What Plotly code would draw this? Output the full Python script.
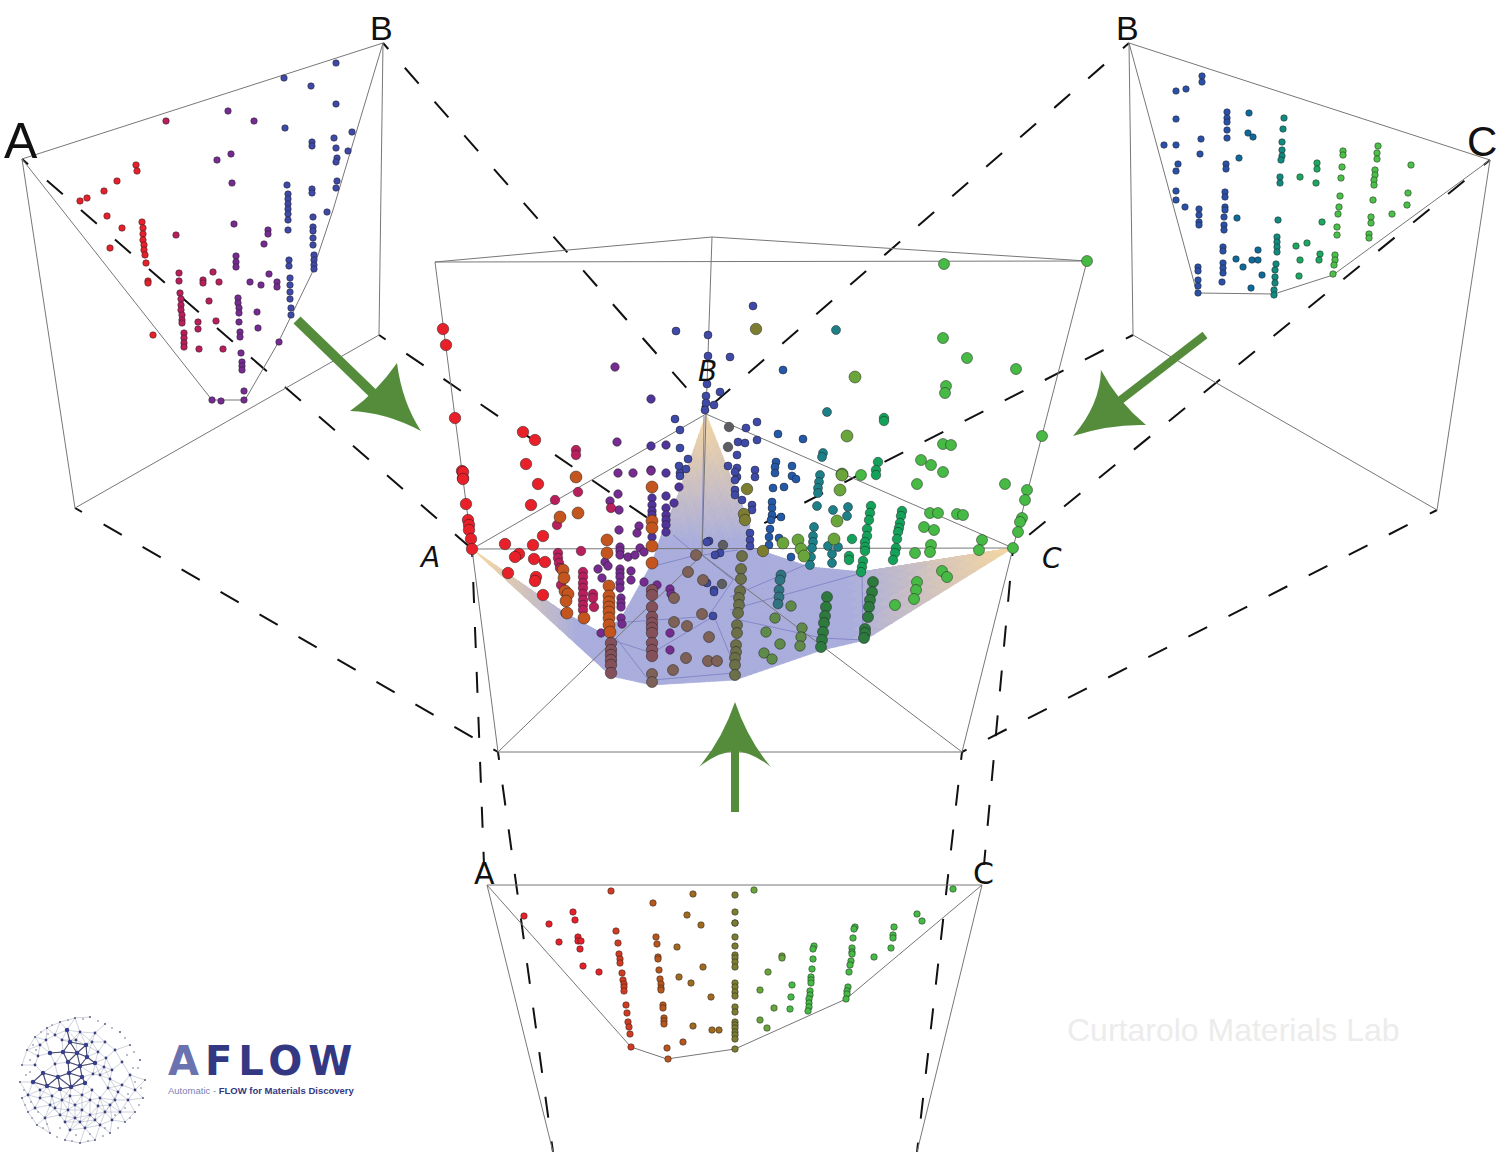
import plotly.graph_objects as go

# ---------- text ----------
WATERMARK = "Curtarolo Materials Lab"
LOGO_TITLE = "AFLOW"
LOGO_SUB_A = "Automatic -"
LOGO_SUB_B = "FLOW for Materials Discovery"

# ---------- central panel: points (x, y) ----------
main_red = [(443,329),(446,345),(455,418),(462,471),(463,478),(463,472),(463,479),(466,504),(468,520),(469,525),(469,530),(471,539),(472,549),
            (523,432),(535,440),(526,464),(538,484),(531,505),(543,536),(505,544),(519,554),(515,557),(533,545),(534,559),(545,562),(508,573),(536,577),(535,581),(543,595)]
main_crimson = [(576,450),(576,455),(555,500),(557,525),(578,492),(581,551),(558,553),(558,558),(559,563),(560,568),(561,585),
                (583,572),(583,577),(583,583),(583,588),(583,594),(583,600),(583,605),(583,610),(593,594),(593,598),(594,607),(611,508)]
main_orange = [(576,477),(560,517),(578,513),(563,570),(564,578),(565,591),(568,594),(566,601),(567,613),(584,618),
               (652,487),(652,521),(652,528),(652,546),(652,563),(607,540),(607,553),(609,586),(609,596),(609,602),(609,607),(609,612),(609,618),(609,625),(610,632)]
main_purple = [(615,367),(617,442),(618,473),(633,473),(651,471),(618,494),(610,501),(619,510),(619,530),(639,526),(637,533),(620,547),(620,551),(620,555),
               (628,557),(635,555),(640,548),(644,552),(605,562),(608,566),(598,569),(602,578),(631,571),(631,580),(620,569),(620,573),(620,577),(620,583),(620,588),
               (621,598),(621,603),(621,607),(621,618),(622,624),(601,633),(565,613),(657,585),(670,589),(671,594),(670,633),(670,650),(644,582)]
main_indigo = [(651,446),(651,399),(651,470),(652,498),(652,505),(652,511),(652,515),(652,537),(666,496),(666,508),(666,515),(666,520),(666,525),(666,532),(674,503),(666,445),(666,473),(679,487)]
main_blue = [(676,331),(708,335),(708,356),(730,357),(707,384),(720,392),(706,396),(706,403),(714,405),(705,410),(675,419),(680,430),(680,448),(688,459),(680,473),(679,466),(686,469),(680,476),
             (746,428),(757,422),(738,442),(745,443),(757,440),(737,455),(728,466),(737,468),(755,470),(737,477),(755,477),(753,306),(709,541),(707,542),(720,553),(715,555),(707,583),(714,590),(714,592),(713,616),
             (735,472),(735,480),(735,490),(735,495),(742,500),(752,505),(752,510),(750,533),(750,540),(750,546)]
main_midblue = [(783,370),(778,434),(776,462),(775,467),(775,473),(772,502),(772,508),(772,515),(771,520),(773,488),(784,487),(770,529),(769,537),(769,545),(781,517),(779,538),(791,557),(803,439),(792,466),(792,476),(796,479)]
main_teal = [(836,330),(827,412),(823,453),(822,457),(820,475),(819,482),(818,488),(818,493),(817,506),(814,527),(813,536),(813,542),(812,548),(811,557),(810,565),(828,546),(833,510),(847,516),(848,507),(838,547),(832,554),(832,563)]
main_emerald = [(884,418),(884,421),(878,462),(876,470),(876,475),(849,556),(849,560),(852,539),(871,506),(870,513),(869,520),(867,529),(867,536),(865,542),(865,547),(865,551),(863,561),(862,567),(861,572),
                (902,511),(901,516),(900,523),(899,528),(898,532),(897,539),(896,548),(895,553),(893,560)]
main_green = [(944,264),(1087,261),(943,338),(967,358),(1016,369),(946,386),(945,393),(1042,436),(943,444),(951,445),(921,460),(931,465),(943,472),(917,484),(1005,484),(930,513),(938,513),(957,514),(963,515),
              (924,527),(934,530),(931,545),(930,552),(915,553),(982,540),(979,550),(1027,490),(1025,500),(1022,518),(1020,522),(1018,532),(1013,548),(942,571),(947,577),(917,582),(916,590),(914,599),(895,605),(861,475)]
main_leaf = [(855,377),(847,436),(842,474),(842,475),(840,490),(837,521),(798,540),(783,543),(801,549),(804,556),(834,539)]
main_olive = [(756,329),(747,489),(744,514),(745,520),(763,551)]
main_gray = [(729,427),(728,447),(723,545),(722,584)]
main_maroon = [(611,643),(611,650),(611,655),(611,660),(611,665),(611,673),(652,590),(652,595),(652,607),(652,617),(652,623),(652,628),(652,633),(652,643),(652,650),(652,656)]
main_brown = [(674,598),(688,572),(703,580),(696,555),(702,614),(674,622),(687,626),(709,637),(686,658),(673,670),(708,661),(717,661),(652,674),(652,682)]
main_khaki = [(742,556),(741,569),(741,579),(740,591),(739,598),(739,605),(738,613),(737,625),(737,633),(736,645),(736,652),(735,658),(735,665),(735,675)]
main_moss = [(802,628),(801,637),(800,646),(791,606),(775,618),(766,632),(780,644),(764,653),(772,659)]
main_forest = [(873,582),(872,592),(870,600),(869,607),(868,617),(865,629),(865,633),(864,638),(827,597),(826,607),(825,616),(824,623),(823,632),(822,640),(821,647)]
main_slate = [(781,575),(780,580),(779,590),(779,597),(778,604)]

# ---------- top-left panel (A-B) ----------
tl_red = [(80,201),(87,198),(104,191),(117,181),(136,165),(137,171),(107,216),(122,228),(110,248),(142,222),(143,228),(143,234),(143,240),(144,245),(144,250),(145,255),(146,263),(148,281),(148,283),(153,335)]
tl_crimson = [(166,121),(176,235),(179,273),(179,281),(180,293),(181,299),(181,305),(181,310),(182,315),(182,320),(182,323),(184,333),(184,338),(184,343),(184,347),(199,349),(198,322),(198,329),(203,280),(203,283),(213,272),(219,282),(209,301),(216,321),(223,349)]
tl_purple = [(228,111),(254,121),(217,160),(231,154),(232,183),(234,224),(236,256),(236,262),(236,267),(238,298),(238,303),(239,308),(239,313),(239,322),(240,332),(240,337),(241,353),(242,362),(242,366),(242,370),(244,391),(244,400),(212,400),(221,401),(250,282),(261,285),(269,274),(257,312),(258,328),(279,342),(268,230),(268,234),(264,244),(277,282),(277,287)]
tl_blue = [(284,78),(336,63),(311,86),(336,104),(285,128),(352,132),(334,138),(312,142),(312,146),(336,148),(348,151),(337,158),(336,162),(287,185),(337,181),(336,188),(312,189),(312,193),(288,194),(288,199),(288,204),(288,209),(288,214),(288,220),(288,230),(327,212),(313,217),(313,227),(313,231),(313,238),(313,245),(314,255),(314,260),(314,265),(314,269),(289,260),(289,266),(290,278),(290,285),(290,292),(290,299),(291,308),(291,315)]

# ---------- top-right panel (B-C) ----------
tr_blue = [(1202,76),(1202,82),(1186,89),(1176,91),(1176,119),(1164,145),(1176,145),(1201,139),(1200,154),(1178,164),(1176,171),(1176,191),(1176,200),(1185,207),(1227,112),(1227,118),(1227,122),(1227,130),(1227,138),(1226,164),(1226,169),(1225,192),(1225,197),(1225,207),(1225,210),(1224,217),(1224,225),(1224,230),(1199,209),(1199,215),(1199,222),(1199,225),(1223,247),(1223,251),(1223,263),(1223,268),(1223,273),(1222,282),(1198,267),(1198,271),(1198,280),(1198,286),(1198,293)]
tr_midblue = [(1249,113),(1248,133),(1253,137),(1239,158),(1237,218),(1236,259),(1243,267),(1252,260),(1258,250),(1258,260),(1251,288),(1262,275)]
tr_teal = [(1284,118),(1283,129),(1282,142),(1282,150),(1282,156),(1281,160),(1280,177),(1280,183),(1278,220),(1277,237),(1277,242),(1277,247),(1277,252),(1276,264),(1275,270),(1275,277),(1275,283),(1274,290),(1274,295)]
tr_emerald = [(1300,177),(1317,163),(1317,169),(1316,183),(1307,243),(1296,246),(1320,254),(1319,260),(1300,260),(1299,276),(1322,222)]
tr_green = [(1343,151),(1343,155),(1342,167),(1341,178),(1378,146),(1377,153),(1377,159),(1375,170),(1375,175),(1374,180),(1374,185),(1411,165),(1408,193),(1407,205),(1392,214),(1373,200),(1340,196),(1339,207),(1338,214),(1371,217),(1371,223),(1337,227),(1337,235),(1369,234),(1369,238),(1335,255),(1335,260),(1334,265),(1333,274)]

# ---------- bottom panel (A-C) ----------
bt_red = [(524,916),(549,924),(559,942),(573,912),(575,920),(578,937),(578,941),(581,941),(580,949),(583,966),(599,972)]
bt_vermilion = [(611,891),(616,931),(618,943),(619,954),(620,959),(620,963),(622,973),(623,980),(624,984),(624,987),(624,991),(626,1005),(627,1013),(628,1022),(629,1027),(630,1034),(631,1047)]
bt_orange = [(653,903),(656,937),(657,944),(658,957),(658,959),(659,970),(660,979),(661,984),(661,988),(661,990),(663,1005),(663,1008),(664,1018),(664,1021),(664,1024),(667,1048),(668,1059),(683,1042)]
bt_brown = [(693,894),(687,915),(701,925),(677,947),(703,967),(679,977),(691,983),(711,997),(693,1026),(712,1030),(719,1030)]
bt_olive_y = [895,912,923,923,937,946,955,958,962,967,983,987,992,996,1007,1012,1022,1025,1028,1032,1035,1039,1049]
bt_olive_x = [735]*len(bt_olive_y)
bt_leaf = [(754,890),(782,956),(782,958),(768,972),(760,990),(774,1008),(760,1020),(767,1028)]
bt_green = [(792,985),(791,997),(790,1009),(814,946),(813,949),(813,959),(812,969),(811,977),(811,980),(811,983),(810,991),(810,995),(809,999),(809,1003),(809,1007),(808,1011),
            (855,927),(854,929),(853,938),(852,948),(852,952),(852,954),(851,961),(850,965),(849,972),(848,987),(847,991),(847,994),(846,999),(874,957),(891,948),(893,935),(893,938),(894,927),(917,914),(922,921),(953,889)]

# ---------- wireframes ----------
thin_main = [[(435,262),(712,237),(1087,261),(435,262),(472,549),(498,752),(962,752),(1013,548),(1087,261)],
             [(712,237),(706,414),(702,555)],[(472,549),(1013,548),(706,414),(472,549)],
             [(498,752),(702,555),(962,752)]]
thin_tl = [[(22,159),(383,43),(379,335),(75,508),(22,159)],[(22,159),(212,400),(245,400),(278,343),(312,273),(333,210),(353,143),(383,43)]]
thin_tr = [[(1129,43),(1490,160),(1437,510),(1133,335),(1129,43)],[(1129,43),(1197,293),(1274,294),(1333,275),(1490,160)]]
thin_bt = [[(553,1152),(487,885),(982,885),(917,1152)],[(487,885),(631,1047),(667,1059),(735,1049),(846,999),(982,885)]]
dashed = [[(383,43),(706,410)],[(22,159),(472,549)],[(379,335),(702,555)],[(75,508),(498,752)],
          [(1129,43),(706,410)],[(1490,160),(1013,548)],[(1133,335),(702,555)],[(1437,510),(962,752)],
          [(472,549),(484,865)],[(498,752),(553,1152)],[(1013,548),(984,865)],[(962,752),(917,1152)]]
surface_lines = [[(612,640),(652,653),(714,616),(736,670)],[(616,638),(650,682)],[(627,622),(713,616)],[(653,680),(733,673)],
                 [(650,567),(697,555),(673,535)],[(702,555),(733,580),(710,614)],[(702,555),(738,550)],[(730,610),(862,573),(863,640)],
                 [(740,620),(822,638),(863,640)],[(730,597),(810,563)],[(704,416),(702,555)]]

# ---------- surface outline ----------
surf_wedge = [[(472,549),(565,613),(611,676)],[(565,613),(600,632),(611,676)]]
surf_centre = (700,600)
surf_ring = [(600,632),(620,620),(652,563),(663,530),(678,495),(706,414),(750,525),(745,545),(762,551),(810,567),(862,572),(1013,548),(865,640),(822,650),(735,680),(652,685),(611,676),(600,632)]

# ---------- logo network ----------
logo_major = [(67,1030),(70,1042),(86,1045),(77,1053),(63,1052),(68,1062),(87,1057),(50,1053),(43,1073),(58,1077),(69,1073),(82,1077),(33,1082),(47,1086),(60,1089),(71,1087),(85,1083),(80,1066),(95,1063)]
logo_minor = [(55,1035),(80,1032),(95,1033),(105,1042),(115,1050),(122,1062),(112,1070),(100,1075),(108,1088),(122,1085),(130,1075),(135,1090),(115,1100),(100,1098),(90,1100),(75,1105),(62,1100),(50,1105),(40,1098),(28,1095),(35,1065),(40,1045),(60,1115),(75,1118),(90,1115),(105,1112),(120,1112),(85,1128),(70,1130),(45,1118),(100,1125),
              (98,1052),(106,1058),(104,1067),(93,1074),(92,1090),(82,1095),(70,1096),(52,1096),(40,1090),(38,1056),(55,1064),(46,1040),(62,1040),(76,1040),(92,1042),(110,1079),(118,1092),(82,1110),(68,1110),(55,1108),(98,1106),(110,1105),(128,1100),(35,1108),(65,1122),(80,1122),(95,1120),(112,1120)]
logo_outer = [(60,1022),(75,1018),(90,1017),(105,1024),(120,1032),(130,1045),(140,1060),(145,1080),(143,1098),(135,1112),(125,1122),(110,1133),(95,1140),(80,1143),(65,1140),(50,1133),(37,1125),(28,1112),(22,1098),(20,1082),(22,1065),(27,1050),(35,1037),(47,1028)]
logo_dust = [(52,1025),(68,1020),(83,1019),(98,1021),(112,1028),(125,1038),(134,1052),(138,1068),(141,1088),(139,1105),(130,1118),(118,1128),(103,1136),(88,1141),(72,1141),(57,1137),(43,1128),(32,1118),(25,1105),(24,1090),(26,1075),(30,1060),(33,1045),(41,1032),
             (127,1055),(133,1068),(135,1082),(128,1094),(125,1108),(115,1115),(105,1128),(90,1134),(76,1135),(60,1128),(47,1124),(38,1112),(31,1102),(30,1072),(36,1050),(48,1034)]

# ---------- styling ----------
EDGE = "rgba(30,30,30,0.7)"
LINE = "#777777"
TAN = (246,215,160)
LAV = (170,174,220)
LEVELS = 18

fig = go.Figure()

def clamp(v):
    return max(0.0, min(1.0, v))

def tan_share(x, y):
    return max(clamp((x-850)/160), clamp((540-y)/125), clamp((575-x)/100))

def split(tri, depth):
    if depth == 0:
        return [tri]
    a, b, c = tri
    ab = ((a[0]+b[0])/2, (a[1]+b[1])/2)
    bc = ((b[0]+c[0])/2, (b[1]+c[1])/2)
    ca = ((c[0]+a[0])/2, (c[1]+a[1])/2)
    out = []
    for t in ([a,ab,ca],[ab,b,bc],[ca,bc,c],[ab,bc,ca]):
        out += split(t, depth-1)
    return out

def polyline(points, color, width, dash=None):
    fig.add_trace(go.Scatter(x=[p[0] for p in points], y=[p[1] for p in points], mode="lines",
                             line=dict(color=color, width=width, dash=dash), showlegend=False, hoverinfo="skip"))

def dots(points, color, size, edge=EDGE, ew=0.7):
    fig.add_trace(go.Scatter(x=[p[0] for p in points], y=[p[1] for p in points], mode="markers",
                             marker=dict(color=color, size=size, line=dict(color=edge, width=ew)),
                             showlegend=False, hoverinfo="skip"))

# dashed construction lines: a short tick at the first corner, then a regular run
tick_dash = "8px,25px," + ",".join(["21px,24px"]*20)
for seg in dashed:
    polyline(seg, "#111111", 2, tick_dash)

# surface with a tan-to-lavender shading
triangles = list(surf_wedge)
for i in range(len(surf_ring)-1):
    triangles.append([surf_centre, surf_ring[i], surf_ring[i+1]])
bins = {k: ([], []) for k in range(LEVELS+1)}
for tri in triangles:
    for t in split(tri, 4):
        cx = sum(p[0] for p in t)/3
        cy = sum(p[1] for p in t)/3
        k = round(tan_share(cx, cy)*LEVELS)
        for p in t + [t[0]]:
            bins[k][0].append(p[0]); bins[k][1].append(p[1])
        bins[k][0].append(None); bins[k][1].append(None)
for k, (xs, ys) in bins.items():
    if not xs:
        continue
    s = k/LEVELS
    col = "rgb(%d,%d,%d)" % tuple(round(LAV[i]+(TAN[i]-LAV[i])*s) for i in range(3))
    fig.add_trace(go.Scatter(x=xs, y=ys, mode="lines", fill="toself", fillcolor=col,
                             line=dict(color=col, width=0.7), showlegend=False, hoverinfo="skip"))
for seg in surface_lines:
    polyline(seg, "#8488c8", 1)

for group in (thin_main, thin_tl, thin_tr, thin_bt):
    for seg in group:
        polyline(seg, LINE, 1)

# logo network
pts = logo_major + logo_minor + logo_outer
ex, ey = [], []
for i, a in enumerate(pts):
    for b in pts[i+1:]:
        if (a[0]-b[0])**2 + (a[1]-b[1])**2 < 16**2:
            ex += [a[0], b[0], None]; ey += [a[1], b[1], None]
fig.add_trace(go.Scatter(x=ex, y=ey, mode="lines", line=dict(color="rgba(140,145,170,0.5)", width=0.8), showlegend=False, hoverinfo="skip"))
mx, my = [], []
for i, a in enumerate(logo_major):
    for b in logo_major[i+1:]:
        if (a[0]-b[0])**2 + (a[1]-b[1])**2 < 17**2:
            mx += [a[0], b[0], None]; my += [a[1], b[1], None]
fig.add_trace(go.Scatter(x=mx, y=my, mode="lines", line=dict(color="rgba(35,38,80,0.8)", width=1.1), showlegend=False, hoverinfo="skip"))
dots(logo_dust, "#666a88", 1.6, "#666a88", 0)
dots(logo_outer, "#555a80", 2, "#555a80", 0)
dots(logo_minor, "#3a4080", 2.8, "#3a4080", 0)
dots(logo_major, "#353f8c", 4.5, "#353f8c", 0)

# data marks, centre panel
for pts_, col, size in [
    (main_blue, "#3f49a8", 8), (main_midblue, "#2359a8", 8), (main_indigo, "#50349c", 8.5), (main_purple, "#752b90", 8.5),
    (main_crimson, "#b81f5c", 9.5), (main_red, "#e8202a", 11.5), (main_teal, "#1d8088", 9), (main_emerald, "#14a25a", 9.5),
    (main_green, "#47ba45", 11), (main_leaf, "#6aa53c", 12), (main_gray, "#5d5d62", 9.5), (main_olive, "#7d7d32", 11.5),
    (main_orange, "#c4551f", 12), (main_maroon, "#84505a", 11.5), (main_brown, "#7e6257", 11), (main_khaki, "#6c7048", 11),
    (main_moss, "#5f8a4a", 10.5), (main_forest, "#2e7a3e", 11), (main_slate, "#2f7480", 10)]:
    dots(pts_, col, size)

# side panels
for pts_, col in [(tl_red, "#e8202a"), (tl_crimson, "#b81f5c"), (tl_purple, "#752b90"), (tl_blue, "#3f49a8"),
                  (tr_blue, "#2a50a8"), (tr_midblue, "#0f6a9c"), (tr_teal, "#128a80"), (tr_emerald, "#1ca860"), (tr_green, "#4cc048"),
                  (bt_red, "#e8202a"), (bt_vermilion, "#d03c22"), (bt_orange, "#b8561f"), (bt_brown, "#a06a20"),
                  (list(zip(bt_olive_x, bt_olive_y)), "#7d7d32"), (bt_leaf, "#6aa53c"), (bt_green, "#45ba45")]:
    dots(pts_, col, 6.5)

# arrows
ARROW = "#548c3c"
shapes = [
    dict(type="line", x0=297, y0=320, x1=385, y1=405, line=dict(color=ARROW, width=10)),
    dict(type="path", path="M 397,363 Q 402,402 421,431 Q 385,412 350,411 Q 376,393 397,363 Z", fillcolor=ARROW, line=dict(width=0)),
    dict(type="line", x0=1205, y0=335, x1=1118, y1=402, line=dict(color=ARROW, width=8)),
    dict(type="path", path="M 1101,370 Q 1100,405 1073,436 Q 1110,424 1146,425 Q 1118,402 1101,370 Z", fillcolor=ARROW, line=dict(width=0)),
    dict(type="line", x0=735, y0=812, x1=735, y1=745, line=dict(color=ARROW, width=8)),
    dict(type="path", path="M 735,702 Q 722,740 699,767 Q 718,752 735,751 Q 752,752 771,767 Q 748,740 735,702 Z", fillcolor=ARROW, line=dict(width=0)),
]

def label(x, y, text, size, family="DejaVu Sans", color="#111111", italic=False, weight="normal", xanchor="center"):
    return dict(x=x, y=y, xref="x", yref="y", text=text, showarrow=False, xanchor=xanchor, yanchor="middle",
                font=dict(size=size, family=family, color=color, style="italic" if italic else "normal", weight=weight))

annotations = [
    label(429,557,"A",28,italic=True), label(707,371,"B",28,italic=True), label(1052,558,"C",28,italic=True),
    label(21,141,"A",50,"Liberation Sans"), label(381,28,"B",34,"Liberation Sans"),
    label(1127,28,"B",34,"Liberation Sans"), label(1499,141,"C",42,"Liberation Sans",xanchor="right"),
    label(484,873,"A",30), label(983,873,"C",30),
    label(1233,1030,WATERMARK,32,"Liberation Sans",color="#ececec"),
    label(166,1061,'<span style="letter-spacing:6px"><span style="color:#6a72b0">A</span>'+LOGO_TITLE[1:]+'</span>',40,"DejaVu Sans",color="#343883",weight="bold",xanchor="left"),
    label(166,1090,'<span style="color:#7b80b4">'+LOGO_SUB_A+'</span> <b>'+LOGO_SUB_B+'</b>',9.5,"Liberation Sans",color="#343883",xanchor="left"),
]

fig.update_layout(width=1500, height=1152, margin=dict(l=0,r=0,t=0,b=0), paper_bgcolor="white", plot_bgcolor="white",
                  xaxis=dict(range=[0,1500], visible=False, fixedrange=True),
                  yaxis=dict(range=[1152,0], visible=False, fixedrange=True),
                  showlegend=False, shapes=shapes, annotations=annotations)
fig.write_html("out.html", config=dict(displayModeBar=False),
               post_script="document.body.style.margin='0';document.documentElement.style.overflow='hidden';")
